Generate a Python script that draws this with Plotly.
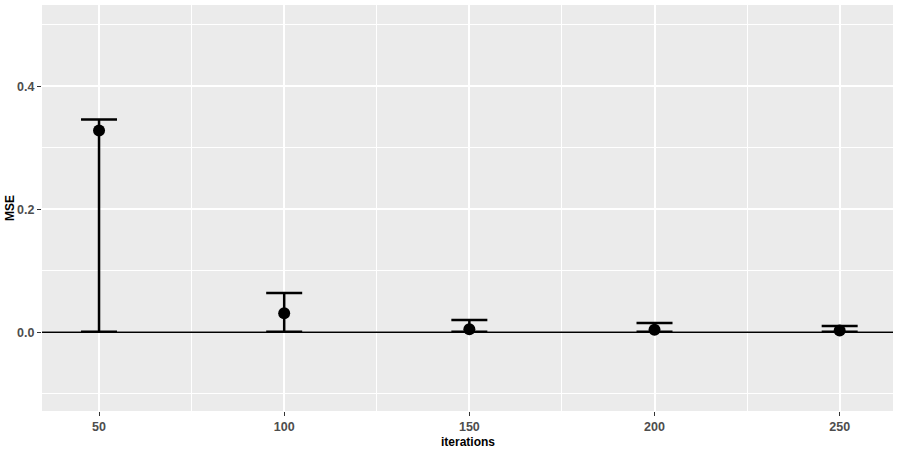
import plotly.graph_objects as go

iterations = [50, 100, 150, 200, 250]
mse_mean = [0.328, 0.031, 0.005, 0.004, 0.003]
mse_upper = [0.346, 0.064, 0.020, 0.015, 0.010]
mse_lower = [0.001, 0.001, 0.001, 0.001, 0.001]
hline_y = 0.0
y_ticks = [0.0, 0.2, 0.4]
y_tick_labels = ["0.0", "0.2", "0.4"]

err_plus = [u - m for u, m in zip(mse_upper, mse_mean)]
err_minus = [m - l for m, l in zip(mse_mean, mse_lower)]

fig = go.Figure()
fig.add_trace(go.Scatter(
    x=iterations, y=mse_mean, mode="markers",
    marker=dict(color="black", size=12),
    error_y=dict(type="data", symmetric=False, array=err_plus, arrayminus=err_minus,
                 color="black", thickness=2.5, width=18),
    showlegend=False,
))
fig.add_shape(type="line", xref="paper", yref="y", x0=0, x1=1, y0=hline_y, y1=hline_y,
              line=dict(color="black", width=1.3), layer="above")

font_tick = dict(family="Liberation Sans, Arial", size=12.5, color="#4D4D4D", weight="bold")
font_title = dict(family="Liberation Sans, Arial", size=12, color="black")

fig.add_annotation(text="<b>iterations</b>", xref="paper", yref="paper", x=0.5, y=-0.054,
                   xanchor="center", yanchor="top", showarrow=False, font=font_title)
fig.add_annotation(text="<b>MSE</b>", xref="paper", yref="paper", x=-0.0375, y=0.5,
                   xanchor="center", yanchor="middle", textangle=-90, showarrow=False,
                   font=font_title)

fig.update_layout(
    width=900, height=450,
    margin=dict(l=42, r=7, t=5, b=39, autoexpand=False),
    paper_bgcolor="white", plot_bgcolor="#EBEBEB",
    xaxis=dict(
        range=[34.6, 264.4], tickvals=iterations, ticktext=[str(v) for v in iterations],
        showgrid=True, gridcolor="white", gridwidth=1.8, zeroline=False, automargin=False,
        minor=dict(dtick=50, tick0=25, showgrid=True, gridcolor="white", gridwidth=0.9),
        ticks="outside", ticklen=4, tickcolor="#333333", tickwidth=1,
        tickfont=font_tick,
    ),
    yaxis=dict(
        range=[-0.128, 0.532], tickvals=y_ticks, ticktext=y_tick_labels,
        showgrid=True, gridcolor="white", gridwidth=1.8, zeroline=False, automargin=False,
        minor=dict(dtick=0.2, tick0=0.1, showgrid=True, gridcolor="white", gridwidth=0.9),
        ticks="outside", ticklen=4, tickcolor="#333333", tickwidth=1,
        tickfont=font_tick,
    ),
)
fig.write_html("out.html", config={"displayModeBar": False},
               post_script="document.body.style.margin='0';")
